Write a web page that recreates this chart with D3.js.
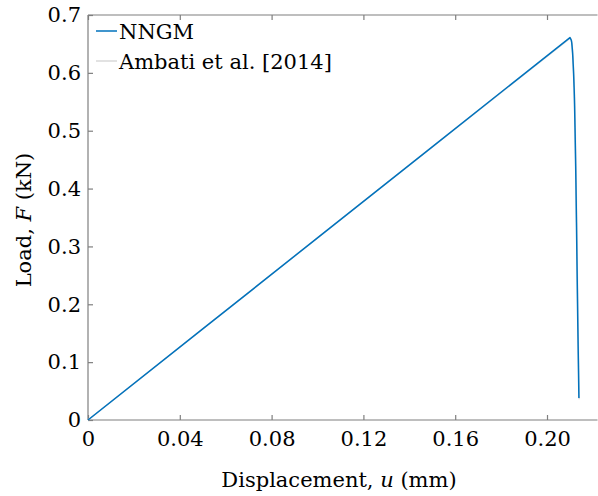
<!DOCTYPE html>
<html>
<head>
<meta charset="utf-8">
<script src="https://cdn.jsdelivr.net/npm/d3@7/dist/d3.min.js"></script>
<style>
  html, body { margin: 0; padding: 0; background: #fff; }
  svg { display: block; }
  text { font-family: "DejaVu Serif", serif; fill: #000; }
</style>
</head>
<body>
<svg id="chart" width="598" height="496"></svg>
<script>
// Load–displacement response (u in mm, F in kN)
const nngmU = [0, 0.05, 0.10, 0.15, 0.2100, 0.2106, 0.2110, 0.2114, 0.2118, 0.2122, 0.2126, 0.2130, 0.2134, 0.2139];
const nngmF = [0, 0.1574, 0.3148, 0.4722, 0.661, 0.656, 0.642, 0.615, 0.575, 0.505, 0.410, 0.290, 0.170, 0.038];

const ambatiU = [0, 0.05, 0.10, 0.15, 0.2101, 0.2107, 0.2111, 0.2115, 0.2119, 0.2123, 0.2127, 0.2131, 0.2135, 0.2140];
const ambatiF = [0, 0.1574, 0.3148, 0.4722, 0.660, 0.655, 0.640, 0.612, 0.572, 0.502, 0.407, 0.287, 0.167, 0.036];

const xTicks = [0, 0.04, 0.08, 0.12, 0.16, 0.20];
const xTickLabels = ["0", "0.04", "0.08", "0.12", "0.16", "0.20"];
const yTicks = [0, 0.1, 0.2, 0.3, 0.4, 0.5, 0.6, 0.7];
const yTickLabels = ["0", "0.1", "0.2", "0.3", "0.4", "0.5", "0.6", "0.7"];

const seriesNames = ["NNGM", "Ambati et al. [2014]"];
const seriesColors = ["#0072bd", "#d9d9d9"];

const svg = d3.select("#chart");
const plotLeft = 88, plotRight = 597.5, plotTop = 15, plotBottom = 420;

const x = d3.scaleLinear().domain([0, 0.222]).range([plotLeft, plotRight]);
const y = d3.scaleLinear().domain([0, 0.7]).range([plotBottom, plotTop]);

const axisColor = "#7f7f7f";
const fontFamily = "DejaVu Serif";
const fontSize = 21;

// bottom axis (ticks pointing inward)
const gx = svg.append("g").attr("transform", `translate(0,${plotBottom})`)
  .call(d3.axisBottom(x).tickValues(xTicks).tickSize(-5).tickPadding(11)
    .tickFormat((d, i) => xTickLabels[i]));
gx.attr("font-family", fontFamily);
gx.select(".domain").attr("stroke", axisColor).attr("stroke-width", 1.2).attr("d", `M${plotLeft},0H${plotRight}`);
gx.selectAll(".tick line").attr("stroke", axisColor).attr("stroke-width", 1.2);
gx.selectAll(".tick text").attr("font-size", fontSize).attr("fill", "#000");

// top edge with inward ticks
const gt = svg.append("g").attr("transform", `translate(0,${plotTop})`)
  .call(d3.axisTop(x).tickValues(xTicks).tickSize(-5).tickFormat(""));
gt.select(".domain").attr("stroke", axisColor).attr("stroke-width", 1.2).attr("d", `M${plotLeft},0H${plotRight}`);
gt.selectAll(".tick line").attr("stroke", axisColor).attr("stroke-width", 1.2);

// left axis
const gy = svg.append("g").attr("transform", `translate(${plotLeft},0)`)
  .call(d3.axisLeft(y).tickValues(yTicks).tickSize(-5).tickPadding(7)
    .tickFormat((d, i) => yTickLabels[i]));
gy.attr("font-family", fontFamily);
gy.select(".domain").attr("stroke", axisColor).attr("stroke-width", 1.2).attr("d", `M0,${plotBottom}V${plotTop}`);
gy.selectAll(".tick line").attr("stroke", axisColor).attr("stroke-width", 1.2);
gy.selectAll(".tick text").attr("font-size", fontSize).attr("fill", "#000");

// curves: straight elastic branch, smooth softening branch
const line = d3.line().curve(d3.curveMonotoneY).x(d => x(d[0])).y(d => y(d[1]));
const lineLin = d3.line().x(d => x(d[0])).y(d => y(d[1]));
const ambati = ambatiU.map((u, i) => [u, ambatiF[i]]);
const nngm = nngmU.map((u, i) => [u, nngmF[i]]);

function drawCurve(data, color) {
  const rise = data.slice(0, 5), fall = data.slice(4);
  const d = lineLin(rise) + line(fall).replace(/^M/, "L");
  svg.append("path").attr("d", d)
    .attr("fill", "none").attr("stroke", color).attr("stroke-width", 1.5)
    .attr("stroke-linejoin", "round");
}
drawCurve(ambati, seriesColors[1]);
drawCurve(nngm, seriesColors[0]);

// legend
const legend = svg.append("g");
seriesNames.forEach((name, i) => {
  const ly = 31 + i * 30;
  legend.append("line").attr("x1", 96).attr("x2", 117).attr("y1", ly).attr("y2", ly)
    .attr("stroke", seriesColors[i]).attr("stroke-width", 1.5);
  legend.append("text").attr("x", 119).attr("y", ly + 7.5)
    .attr("font-size", fontSize).text(name);
});

// axis titles
const xl = svg.append("text").attr("x", 339).attr("y", 487)
  .attr("text-anchor", "middle").attr("font-size", fontSize);
xl.append("tspan").text("Displacement, ");
xl.append("tspan").attr("font-style", "italic").text("u");
xl.append("tspan").text(" (mm)");

const yl = svg.append("text").attr("transform", "translate(31,220) rotate(-90)")
  .attr("text-anchor", "middle").attr("font-size", fontSize);
yl.append("tspan").text("Load, ");
yl.append("tspan").attr("font-style", "italic").text("F");
yl.append("tspan").text(" (kN)");
</script>
</body>
</html>
